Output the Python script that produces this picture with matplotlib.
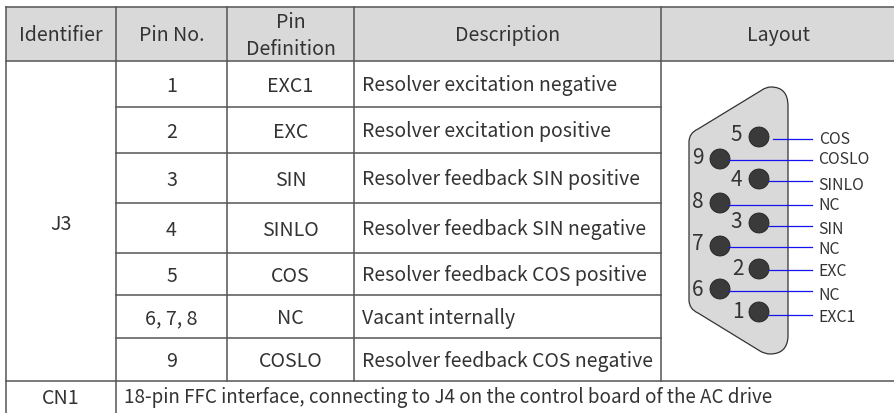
import matplotlib
matplotlib.use("Agg")
import matplotlib.pyplot as plt
from matplotlib.patches import PathPatch, Circle, Rectangle
from matplotlib.path import Path

# colores
GRIS_HEADER = "#d9d9d9"
GRIS_LINEA = "#555555"
TEXTO = "#333333"
AZUL = "#1414f0"

# posiciones de la tabla en pixeles
columnas_x = [6, 116, 227, 354, 661.5, 895]
filas_y = [6.5, 61, 107, 153, 203, 253, 295, 338, 381]
FONDO_Y = 413
# ajuste vertical del texto
DY = 2

encabezados = ["Identifier", "Pin No.", "Pin\nDefinition", "Description", "Layout"]
pin_no = ["1", "2", "3", "4", "5", "6, 7, 8", "9"]
pin_def = ["EXC1", "EXC", "SIN", "SINLO", "COS", "NC", "COSLO"]
descripcion = [
    "Resolver excitation negative",
    "Resolver excitation positive",
    "Resolver feedback SIN positive",
    "Resolver feedback SIN negative",
    "Resolver feedback COS positive",
    "Vacant internally",
    "Resolver feedback COS negative",
]
identificador = "J3"
fila_cn1 = "CN1"
texto_cn1 = "18-pin FFC interface, connecting to J4 on the control board of the AC drive"

# conector: numero, centro del pin, numero y etiqueta
pines_num = ["5", "9", "4", "8", "3", "7", "2", "6", "1"]
pines_x = [759, 720, 759, 720, 759, 720, 759, 720, 759]
pines_y = [137, 159, 179, 203, 223, 246, 269, 289, 312]
num_x = [736, 698, 736, 698, 736, 698, 738, 698, 738]
num_y = [135, 158, 180, 202, 222, 244, 269, 290, 312]
etiquetas = ["COS", "COSLO", "SINLO", "NC", "SIN", "NC", "EXC", "NC", "EXC1"]
etiquetas_x = [819, 818, 818, 818, 818, 818, 818, 818, 818]
etiquetas_y = [140, 160, 185, 206, 229, 250, 272, 295, 317]
lineas_x = [773, 729, 769, 729, 769, 729, 769, 729, 769]
lineas_y = [138.5, 159.5, 180.5, 204.5, 225.5, 246.5, 269.5, 290.5, 314.5]


def crear_tabla(ax):
    ax.add_patch(Rectangle((columnas_x[0], filas_y[0]), columnas_x[-1] - columnas_x[0],
                           filas_y[1] - filas_y[0], facecolor=GRIS_HEADER, edgecolor="none"))
    lw = 1.1
    # horizontales
    for y in [filas_y[0], filas_y[1], filas_y[-1]]:
        ax.plot([columnas_x[0], columnas_x[-1]], [y, y], color=GRIS_LINEA, lw=lw)
    for y in filas_y[2:-1]:
        ax.plot([columnas_x[1], columnas_x[4]], [y, y], color=GRIS_LINEA, lw=lw)
    # verticales
    ax.plot([columnas_x[0]] * 2, [filas_y[0], FONDO_Y], color=GRIS_LINEA, lw=lw)
    ax.plot([columnas_x[1]] * 2, [filas_y[0], FONDO_Y], color=GRIS_LINEA, lw=lw)
    for x in columnas_x[2:5]:
        ax.plot([x, x], [filas_y[0], filas_y[-1]], color=GRIS_LINEA, lw=lw)

    fs = 14.1
    for i, h in enumerate(encabezados):
        xc = (columnas_x[i] + columnas_x[i + 1]) / 2
        ax.text(xc, (filas_y[0] + filas_y[1]) / 2 + DY, h, ha="center", va="center",
                fontsize=fs, color=TEXTO, linespacing=1.4)
    for i in range(len(pin_no)):
        yc = (filas_y[i + 1] + filas_y[i + 2]) / 2 + DY
        ax.text((columnas_x[1] + columnas_x[2]) / 2, yc, pin_no[i], ha="center", va="center", fontsize=fs, color=TEXTO)
        ax.text((columnas_x[2] + columnas_x[3]) / 2, yc, pin_def[i], ha="center", va="center", fontsize=fs, color=TEXTO)
        ax.text(columnas_x[3] + 8, yc, descripcion[i], ha="left", va="center", fontsize=14, color=TEXTO)
    ax.text((columnas_x[0] + columnas_x[1]) / 2, (filas_y[1] + filas_y[-1]) / 2 + 3, identificador,
            ha="center", va="center", fontsize=fs, color=TEXTO)
    yc = (filas_y[-1] + FONDO_Y) / 2 - 1 + DY
    ax.text((columnas_x[0] + columnas_x[1]) / 2, yc, fila_cn1, ha="center", va="center", fontsize=fs, color=TEXTO)
    ax.text(columnas_x[1] + 8, yc, texto_cn1, ha="left", va="center", fontsize=13.55, color=TEXTO)


def crear_conector(ax):
    verts = [(689, 142), (689, 133), (698, 129), (762, 90), (766, 87), (771, 87),
             (788, 87), (788, 106), (788, 337), (787, 354), (770, 354), (765, 354),
             (760, 351), (698, 313), (689, 309), (689, 300), (689, 142)]
    codes = [Path.MOVETO, Path.CURVE3, Path.CURVE3, Path.LINETO, Path.CURVE3, Path.CURVE3,
             Path.CURVE3, Path.CURVE3, Path.LINETO, Path.CURVE3, Path.CURVE3, Path.CURVE3,
             Path.CURVE3, Path.LINETO, Path.CURVE3, Path.CURVE3, Path.CLOSEPOLY]
    ax.add_patch(PathPatch(Path(verts, codes), facecolor="#d9d9d9", edgecolor="#333333", lw=0.9))

    for i in range(len(pines_num)):
        ax.plot([lineas_x[i], 812], [lineas_y[i]] * 2, color=AZUL, lw=0.9, zorder=5)
        ax.add_patch(Circle((pines_x[i], pines_y[i]), 10, facecolor="#3a3a3a", edgecolor="#222222", lw=0.6, zorder=4))
        ax.text(num_x[i], num_y[i], pines_num[i], ha="center", va="center", fontsize=15, color=TEXTO)
        ax.text(etiquetas_x[i], etiquetas_y[i], etiquetas[i], ha="left", va="center", fontsize=11.4, color=TEXTO)


def main():
    plt.rcParams["font.family"] = ["Noto Sans CJK SC", "Noto Sans", "DejaVu Sans"]
    fig = plt.figure(figsize=(8.95, 4.13), dpi=100)
    ax = fig.add_axes([0, 0, 1, 1])
    ax.set_xlim(0, 895)
    ax.set_ylim(413, 0)
    ax.axis("off")

    crear_tabla(ax)
    crear_conector(ax)

    fig.savefig("out.png", dpi=100, facecolor="white")
    plt.close(fig)


if __name__ == "__main__":
    main()
